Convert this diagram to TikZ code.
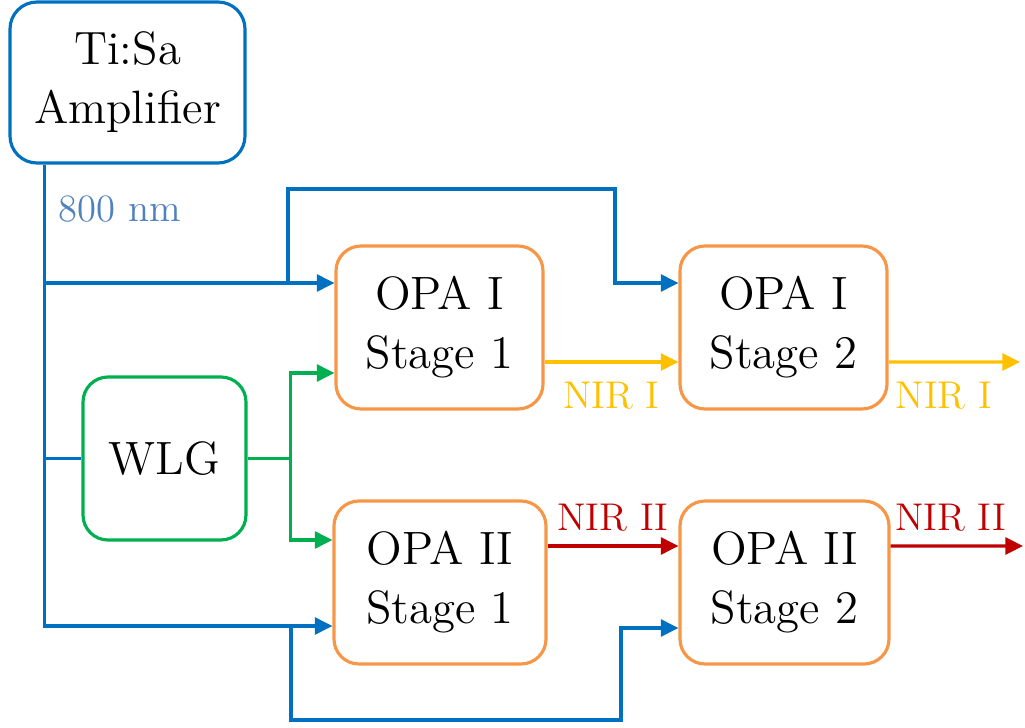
\documentclass[tikz,border=0pt]{standalone}
\usepackage{tikz}
\usetikzlibrary{arrows.meta,positioning,calc}
\definecolor{pumpblue}{HTML}{0070C0}
\definecolor{wlblue}{HTML}{4F81BD}
\definecolor{opaorange}{HTML}{F79646}
\definecolor{seedgreen}{HTML}{00B050}
\definecolor{niryellow}{HTML}{FFC000}
\definecolor{nirred}{HTML}{C00000}

\begin{document}
\begin{tikzpicture}[
	box/.style={draw, rounded corners=0.25cm, line width=0.9pt, align=center, inner sep=0pt, font=\fontsize{13.3}{16.8}\selectfont},
	opa/.style={box, draw=opaorange, minimum width=2.07cm, minimum height=1.63cm},
	beam/.style={line width=0.9pt},
	tip/.style={-{Triangle[length=5pt,width=4.8pt]}},
	lbl/.style={font=\fontsize{11}{13}\selectfont, inner sep=1pt}
	]
	\useasboundingbox (0,0) rectangle (10.25,7.27);
	
	\node[box, draw=pumpblue, rounded corners=0.27cm, minimum width=2.35cm, minimum height=1.61cm] (tisa) at (1.275,6.445) {Ti:Sa\\Amplifier};
	\node[box, draw=seedgreen, minimum width=1.63cm, minimum height=1.63cm] (wlg) at (1.645,2.685) {WLG};
	\node[opa] (opaIa) at (4.395,3.995) {OPA I\\Stage 1};
	\node[opa] (opaIb) at (7.835,3.995) {OPA I\\Stage 2};
	\node[opa, minimum width=2.12cm] (opaIIa) at (4.40,1.445) {OPA II\\Stage 1};
	\node[opa, minimum width=2.09cm] (opaIIb) at (7.845,1.445) {OPA II\\Stage 2};
	\node[lbl, text=wlblue] (wl) at (1.20,5.175) {800 nm};
	
	\coordinate (trunk) at ([xshift=0.36cm]tisa.south west);
	\coordinate (pIa) at ([yshift=0.445cm]opaIa.west);
	\coordinate (pIb) at ([yshift=0.445cm]opaIb.west);
	\coordinate (pIIa) at ([yshift=-0.435cm]opaIIa.west);
	\coordinate (pIIb) at ([yshift=-0.455cm]opaIIb.west);
	\coordinate (sIa) at ([yshift=-0.455cm]opaIa.west);
	\coordinate (sIIa) at ([yshift=0.425cm]opaIIa.west);
	\coordinate (split) at ([xshift=0.43cm]wlg.east);
	\coordinate (upI) at (2.88,5.38);
	\coordinate (upII) at (6.15,5.38);
	\coordinate (dnI) at (2.91,0.07);
	\coordinate (dnII) at (6.21,0.07);
	\coordinate (outI) at (10.20,3.65);
	\coordinate (outII) at (10.23,1.81);
	
	\draw[beam, pumpblue, tip] (trunk) |- (pIIa);
	\draw[beam, pumpblue, tip] (trunk |- pIa) -- (pIa);
	\draw[beam, pumpblue] (trunk |- wlg.west) -- (wlg.west);
	\draw[beam, pumpblue, tip] (upI |- pIa) -- (upI) -- (upII) |- (pIb);
	\draw[beam, pumpblue, tip] (dnI |- pIIa) -- (dnI) -- (dnII) |- (pIIb);
	
	\draw[beam, seedgreen] (wlg.east) -- (split);
	\draw[beam, seedgreen, tip] (split) |- (sIa);
	\draw[beam, seedgreen, tip] (split) |- (sIIa);
	
	\draw[beam, niryellow, tip] ([yshift=-0.345cm]opaIa.east) -- ([yshift=-0.345cm]opaIb.west) node[lbl, text=niryellow, midway, yshift=-0.34cm] (nirIa) {NIR I};
	\draw[beam, niryellow, tip] ([yshift=-0.345cm]opaIb.east) -- (outI) node[lbl, text=niryellow, pos=0.42, yshift=-0.34cm] (nirIb) {NIR I};
	\draw[beam, nirred, tip] ([yshift=0.365cm]opaIIa.east) -- ([yshift=0.365cm]opaIIb.west) node[lbl, text=nirred, midway, yshift=0.28cm] (nirIIa) {NIR II};
	\draw[beam, nirred, tip] ([yshift=0.365cm]opaIIb.east) -- (outII) node[lbl, text=nirred, pos=0.455, yshift=0.28cm] (nirIIb) {NIR II};
\end{tikzpicture}
\end{document}
